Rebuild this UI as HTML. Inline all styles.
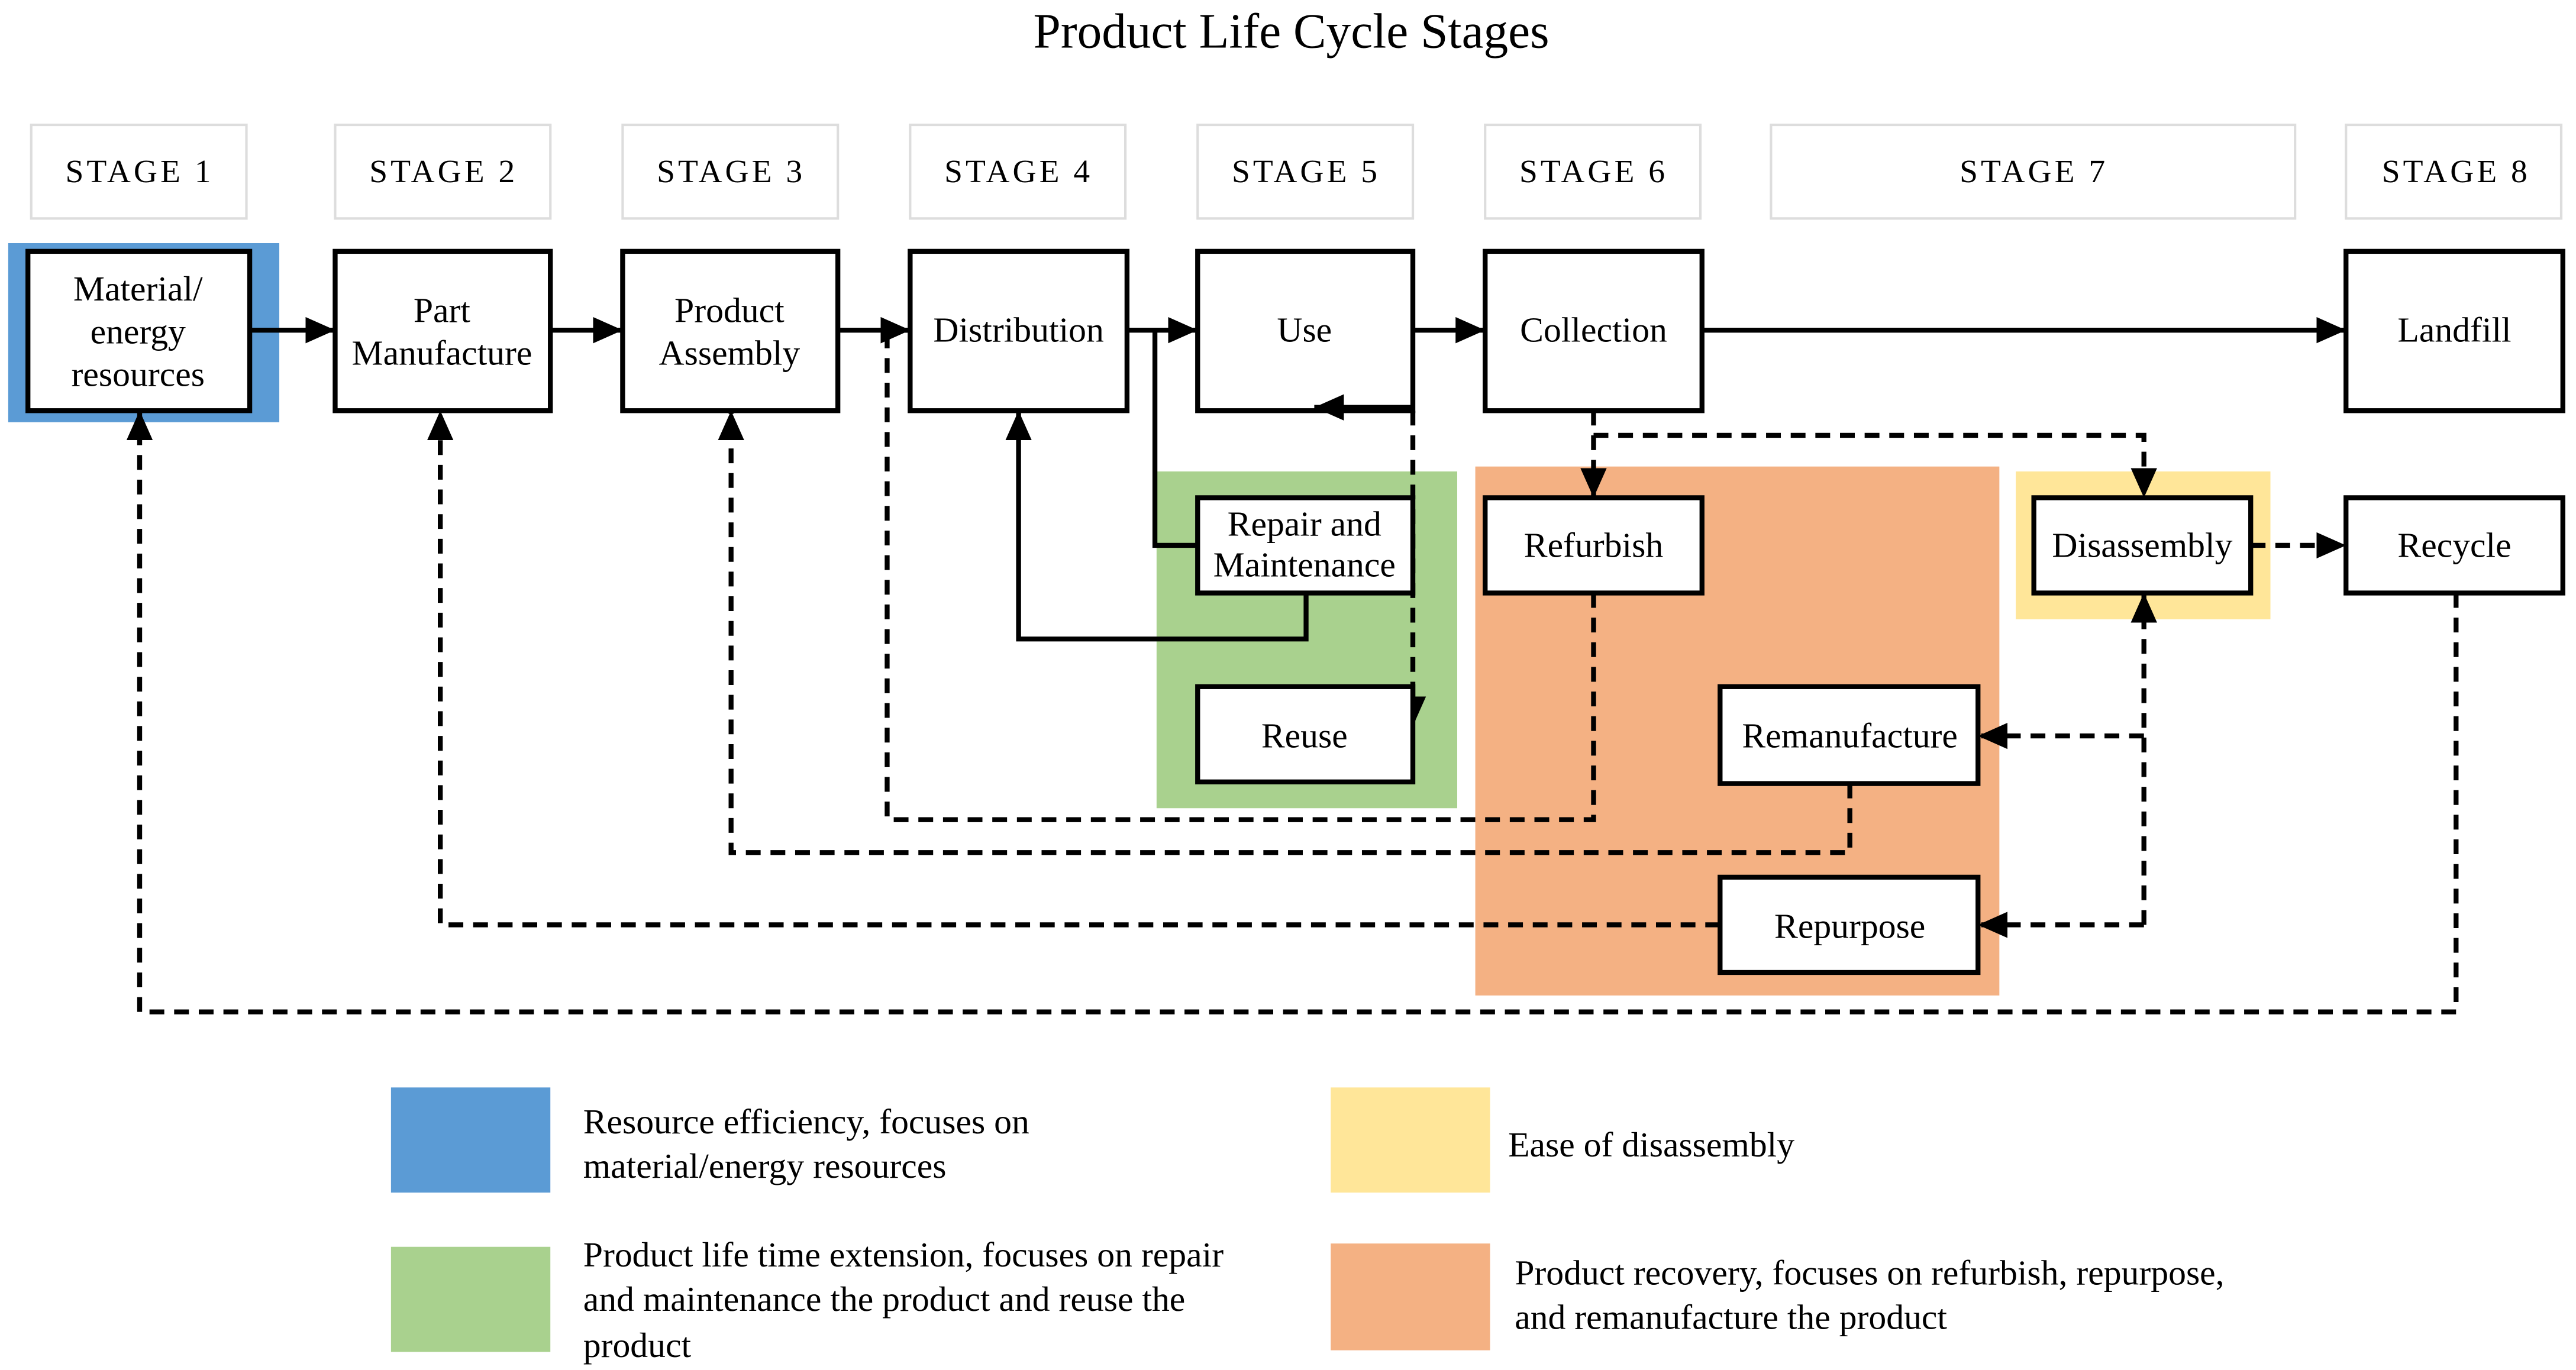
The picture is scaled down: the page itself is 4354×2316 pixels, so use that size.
<!DOCTYPE html>
<html><head><meta charset="utf-8"><style>html,body{margin:0;padding:0;background:#fff}svg{display:block}</style></head>
<body>
<svg width="4354" height="2316" viewBox="0 0 1568 834" preserveAspectRatio="none" xmlns="http://www.w3.org/2000/svg" font-family="Liberation Serif, serif">
<defs>
<marker id="b" markerWidth="18" markerHeight="16" refX="18" refY="8" orient="auto" markerUnits="userSpaceOnUse"><path d="M0,0 L18,8 L0,16 z" fill="#000"/></marker>
</defs>
<text x="786" y="29" font-size="30" text-anchor="middle">Product Life Cycle Stages</text>
<g fill="#fff" stroke="#ddd" stroke-width="1.5">
<rect x="19" y="76" width="131" height="57"/><rect x="204" y="76" width="131" height="57"/><rect x="379" y="76" width="131" height="57"/><rect x="554" y="76" width="131" height="57"/><rect x="729" y="76" width="131" height="57"/><rect x="904" y="76" width="131" height="57"/><rect x="1078" y="76" width="319" height="57"/><rect x="1428" y="76" width="131" height="57"/>
</g>
<g font-size="20" text-anchor="middle" letter-spacing="1.8">
<text x="85" y="111">STAGE 1</text><text x="270" y="111">STAGE 2</text><text x="445" y="111">STAGE 3</text><text x="620" y="111">STAGE 4</text><text x="795" y="111">STAGE 5</text><text x="970" y="111">STAGE 6</text><text x="1238" y="111">STAGE 7</text><text x="1495" y="111">STAGE 8</text>
</g>
<rect x="5" y="148" width="165" height="109" fill="#5b9bd5"/>
<rect x="704" y="287" width="183" height="205" fill="#a9d18e"/>
<rect x="898" y="284" width="319" height="322" fill="#f4b183"/>
<rect x="1227" y="287" width="155" height="90" fill="#ffe699"/>
<g fill="none" stroke="#000" stroke-width="3">
<path d="M152,201 H204" marker-end="url(#b)"/>
<path d="M335,201 H379" marker-end="url(#b)"/>
<path d="M510,201 H554" marker-end="url(#b)"/>
<path d="M686,201 H729" marker-end="url(#b)"/>
<path d="M860,201 H904" marker-end="url(#b)"/>
<path d="M1036,201 H1428" marker-end="url(#b)"/>
<path d="M703,201 V332 H729"/>
<path d="M795,361 V389 H620 V250" marker-end="url(#b)"/>
</g>
<g fill="none" stroke="#000" stroke-width="3" stroke-dasharray="9,6">
<path d="M860,250 V442" marker-end="url(#b)"/>
<path d="M970,250 V303" marker-end="url(#b)"/>
<path d="M970,265 H1305 V303" marker-end="url(#b)"/>
<path d="M970,361 V499 H540 V201 H554" marker-end="url(#b)"/>
<path d="M1126,477 V519 H445 V250" marker-end="url(#b)"/>
<path d="M1047,563 H268 V250" marker-end="url(#b)"/>
<path d="M1305,563 V361" marker-end="url(#b)"/>
<path d="M1305,563 H1204" marker-end="url(#b)"/>
<path d="M1305,448 H1204" marker-end="url(#b)"/>
<path d="M1370,332 H1428" marker-end="url(#b)"/>
<path d="M1495,361 V616 H85 V250" marker-end="url(#b)"/>
</g>
<g fill="#fff" stroke="#000" stroke-width="3">
<rect x="17" y="153" width="135" height="97"/><rect x="204" y="153" width="131" height="97"/><rect x="379" y="153" width="131" height="97"/><rect x="554" y="153" width="132" height="97"/><rect x="729" y="153" width="131" height="97"/><rect x="904" y="153" width="132" height="97"/><rect x="1428" y="153" width="132" height="97"/>
<rect x="729" y="303" width="131" height="58"/><rect x="729" y="418" width="131" height="58"/><rect x="904" y="303" width="132" height="58"/><rect x="1047" y="418" width="157" height="59"/><rect x="1047" y="534" width="157" height="58"/><rect x="1238" y="303" width="132" height="58"/><rect x="1428" y="303" width="132" height="58"/>
</g>
<path d="M860,248 H800" stroke="#000" stroke-width="3" marker-end="url(#b)"/>
<g font-size="21.5" text-anchor="middle">
<text x="84" y="183">Material/</text><text x="84" y="209">energy</text><text x="84" y="235">resources</text>
<text x="269" y="196">Part</text><text x="269" y="222">Manufacture</text>
<text x="444" y="196">Product</text><text x="444" y="222">Assembly</text>
<text x="620" y="208">Distribution</text><text x="794" y="208">Use</text><text x="970" y="208">Collection</text><text x="1494" y="208">Landfill</text>
<text x="794" y="326">Repair and</text><text x="794" y="351">Maintenance</text>
<text x="794" y="455">Reuse</text><text x="970" y="339">Refurbish</text><text x="1126" y="455">Remanufacture</text><text x="1126" y="571">Repurpose</text><text x="1304" y="339">Disassembly</text><text x="1494" y="339">Recycle</text>
</g>
<rect x="238" y="662" width="97" height="64" fill="#5b9bd5"/>
<rect x="238" y="759" width="97" height="64" fill="#a9d18e"/>
<rect x="810" y="662" width="97" height="64" fill="#ffe699"/>
<rect x="810" y="757" width="97" height="65" fill="#f4b183"/>
<g font-size="21.5">
<text x="355" y="690">Resource efficiency, focuses on</text><text x="355" y="717">material/energy resources</text>
<text x="355" y="771">Product life time extension, focuses on repair</text><text x="355" y="798">and maintenance the product and reuse the</text><text x="355" y="826">product</text>
<text x="918" y="704">Ease of disassembly</text>
<text x="922" y="782">Product recovery, focuses on refurbish, repurpose,</text><text x="922" y="809">and remanufacture the product</text>
</g>
</svg>
</body></html>
